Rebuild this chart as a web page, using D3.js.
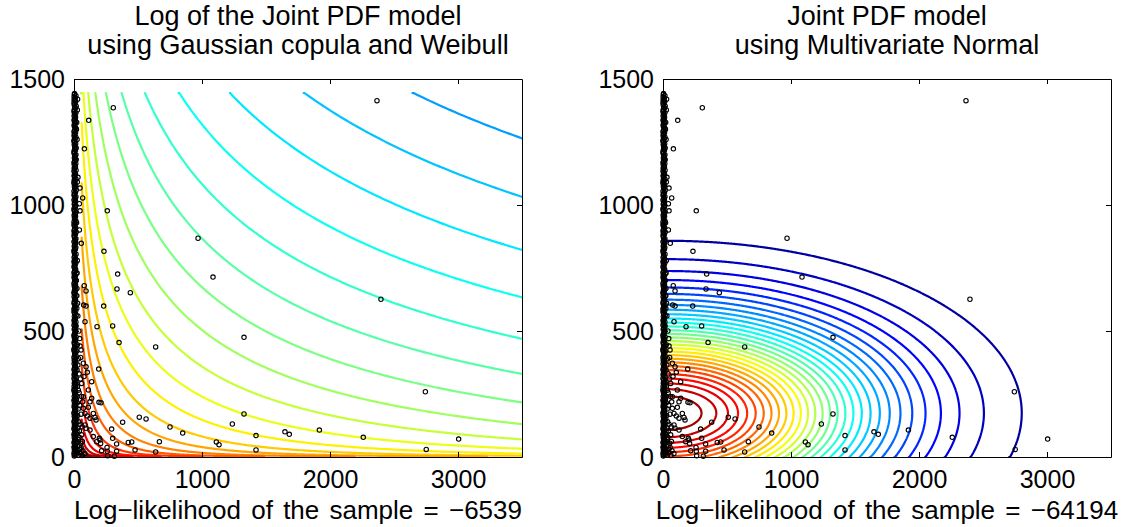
<!DOCTYPE html>
<html>
<head>
<meta charset="utf-8">
<script src="https://cdn.jsdelivr.net/npm/d3@7"></script>
<style>
  body { margin: 0; background: #fff; }
  svg text { font-family: "Liberation Sans", Arial, Helvetica, sans-serif; fill: #000; }
</style>
</head>
<body>
<svg id="chart" width="1127" height="527"></svg>
<script>
// ---------- axis ticks and text ----------
const xTicks = [0, 1000, 2000, 3000];
const yTicks = [0, 500, 1000, 1500];
const xDomain = [0, 3500];
const yDomain = [0, 1500];
const leftTitle = ["Log of the Joint PDF model", "using Gaussian copula and Weibull"];
const rightTitle = ["Joint PDF model", "using Multivariate Normal"];
const leftLabel = "Log\u2212likelihood of the sample = \u22126539";
const rightLabel = "Log\u2212likelihood of the sample = \u221264194";

// ---------- observed sample (x, y) ----------
// dense column of observations close to x = 0
const columnSamples = [
  [2,4],[6,9],[0,15],[9,21],[3,27],[12,31],[1,38],[5,44],[8,50],[0,57],[4,63],[11,68],[2,76],[7,83],[0,90],
  [5,97],[10,102],[1,110],[6,118],[3,125],[9,131],[0,139],[4,147],[7,154],[2,161],[12,168],[0,176],[5,184],
  [8,191],[1,199],[3,208],[10,215],[0,223],[6,231],[2,240],[9,247],[4,256],[0,264],[7,271],[1,280],[11,287],
  [3,295],[5,304],[0,312],[8,320],[2,329],[6,337],[0,346],[4,354],[10,361],[1,370],[7,378],[3,387],[0,396],
  [5,404],[9,411],[2,420],[0,429],[6,437],[4,446],[1,455],[8,463],[3,472],[0,481],[5,489],[11,497],[2,506],
  [7,514],[0,523],[4,532],[1,541],[9,549],[3,558],[6,566],[0,575],[2,584],[8,592],[5,601],[0,610],[3,619],
  [10,627],[1,636],[6,645],[0,653],[4,662],[7,671],[2,679],[0,688],[5,697],[9,705],[1,714],[3,723],[0,732],
  [6,740],[8,749],[2,758],[4,767],[0,775],[11,783],[1,792],[5,801],[3,810],[0,819],[7,827],[2,836],[6,845],
  [0,854],[9,862],[4,871],[1,880],[3,889],[0,898],[5,906],[8,915],[2,924],[0,933],[6,941],[4,950],[1,959],
  [10,967],[3,976],[0,985],[7,994],[2,1003],[5,1011],[0,1020],[8,1029],[1,1038],[4,1046],[0,1055],[6,1064],
  [3,1073],[9,1081],[0,1090],[2,1099],[5,1108],[1,1117],[7,1125],[0,1134],[4,1143],[11,1151],[2,1160],
  [0,1169],[6,1178],[3,1187],[8,1195],[1,1204],[0,1213],[5,1222],[9,1230],[2,1239],[4,1248],[0,1257],
  [7,1265],[1,1274],[3,1283],[0,1292],[6,1300],[10,1309],[2,1318],[5,1327],[0,1336],[8,1344],[1,1353],
  [4,1362],[0,1371],[3,1380],[7,1388],[2,1397],[0,1406],[5,1414],[9,1422],[1,1430],[3,1438],
  [4,8],[13,17],[7,25],[15,33],[2,41],[10,47],[17,54],[5,60],[12,66],[8,72],[14,79],[3,86],[16,94],[6,100],
  [11,106],[1,114],[13,121],[9,128],[15,135],[4,143],[12,150],[7,158],[16,165],[2,172],[10,180],[14,188],
  [5,195],[12,203],[8,211],[15,219],[3,227],[11,235],[17,244],[6,251],[13,260],[1,268],[9,276],[15,284],
  [4,291],[12,299],[7,308],[16,316],[2,324],[10,333],[14,341],[5,350],[12,358],[8,365],[15,374],[3,382],
  [11,391],[17,400],[6,408],[13,416],[1,424],[9,433],[15,441],[4,450],[12,459],[7,467],[16,476],[2,485],
  [10,493],[14,501],[5,510],[12,518],[8,527],[15,536],[3,545],[11,553],[17,562],[6,570],[13,579],[1,588],
  [9,596],[15,605],[4,614],[12,623],[7,631],[16,640],[2,649],[10,657],[14,666],[5,675],[12,683],[8,692],
  [15,701],[3,709],[11,718],[17,727],[6,736],[13,744],[1,753],[9,762],[15,771],[4,779],[12,787],[7,796],
  [16,805],[2,814],[10,823],[14,831],[5,840],[12,849],[8,858],[15,866],[3,875],[11,884],[17,893],[6,902],
  [13,910],[1,919],[9,928],[15,937],[4,945],[12,954],[7,963],[16,971],[2,980],[10,989],[14,998],[5,1007],
  [12,1015],[8,1024],[15,1033],[3,1042],[11,1050],[17,1059],[6,1068],[13,1077],[1,1085],[9,1094],
  [15,1103],[4,1112],[12,1121],[7,1129],[16,1138],[2,1147],[10,1155],[14,1164],[5,1173],[12,1182],
  [8,1191],[15,1199],[3,1208],[11,1217],[17,1226],[6,1234],[13,1243],[1,1252],[9,1261],[15,1269],
  [4,1278],[12,1287],[7,1296],[16,1304],[2,1313],[10,1322],[14,1331],[5,1340],[12,1348],[8,1357],
  [15,1366],[3,1375],[11,1384],[17,1392],[6,1401],[13,1410],[1,1418],[9,1426],[15,1434],[4,1442]
];
// observations just right of the column
const nearAxisSamples = [
  [20,12],[35,8],[48,18],[62,6],[15,35],[28,42],[44,30],[70,25],[85,14],[25,60],[52,55],[38,78],[18,92],
  [60,88],[30,115],[47,130],[22,150],[55,170],[33,190],[19,230],[40,255],[27,280],[50,310],[24,345],[36,390],
  [20,420],[45,470],[16,520],[30,560],[22,640],[18,700],[26,780],[14,850],[20,930],[31,1110],[17,1180],
  [24,1260],[19,1300],[28,1420],[26,20],[40,45],[56,38],[32,70],[66,62],[24,100],[42,104],[36,140],
  [64,120],[28,165],[44,205],[26,215],[58,240],[34,265],[22,300],[40,330],[30,365],[52,395],[26,445],
  [38,500],[22,590],[28,610],[24,730]
];
// scattered observations
const spreadSamples = [
  [307,1386],[115,1336],[26,1377],[21,1327],[81,1223],[47,1067],[26,1091],[68,1028],[42,1005],[47,977],
  [260,977],[42,901],[57,848],[234,816],[969,868],[2367,1414],[341,726],[1086,714],[80,680],[94,659],
  [23,669],[336,667],[440,652],[2398,626],[76,603],[94,599],[232,599],[86,537],[302,520],[180,517],
  [1328,475],[352,454],[638,437],[47,440],[55,425],[73,372],[94,358],[193,349],[104,336],[138,299],
  [60,292],[78,319],[112,266],[2745,259],[73,239],[138,233],[68,219],[125,219],[195,217],[211,215],
  [73,193],[112,197],[86,173],[151,173],[104,163],[125,154],[164,157],[172,147],[380,138],[510,158],
  [563,151],[1237,131],[1328,171],[750,119],[294,111],[86,127],[94,114],[125,107],[849,95],[1422,85],
  [1648,100],[1682,90],[1917,107],[2260,78],[3005,71],[151,81],[302,74],[198,74],[203,67],[667,61],
  [1112,60],[1133,49],[424,58],[451,60],[333,52],[177,61],[208,54],[258,38],[2752,30],[1422,28],
  [477,28],[638,20],[216,25],[260,23],[333,23],[315,3],[263,5]
];
const samples = columnSamples.concat(nearAxisSamples, spreadSamples);

// ---------- fitted models ----------
// Weibull marginals (shape, scale) for the copula model
const weibullX = { shape: 0.12, scale: 300 };
const weibullY = { shape: 0.67, scale: 300 };
const copulaLevelStart = -20.53;   // lowest log-density contour
const copulaLevelStep = 0.40;
const copulaLevelCount = 23;
// bivariate normal: mean, standard deviations, correlation
const mvnMean = [30, 174];
const mvnSd = [1058, 261];
const mvnRho = 0;
const mvnLevelCount = 30;

// ---------- helpers ----------
function jet(t) {
  const c = v => Math.max(0, Math.min(1, v));
  return d3.rgb(255 * c(1.5 - Math.abs(4 * t - 3)),
                255 * c(1.5 - Math.abs(4 * t - 2)),
                255 * c(1.5 - Math.abs(4 * t - 1))).formatHex();
}
function logWeibull(v, p) {
  const z = v / p.scale;
  return Math.log(p.shape / p.scale) + (p.shape - 1) * Math.log(z) - Math.pow(z, p.shape);
}
function mvnDensity(x, y) {
  const zx = (x - mvnMean[0]) / mvnSd[0], zy = (y - mvnMean[1]) / mvnSd[1];
  const q = (zx * zx - 2 * mvnRho * zx * zy + zy * zy) / (1 - mvnRho * mvnRho);
  return Math.exp(-q / 2);   // relative to the peak density
}
function gridToData(g, arr) {
  let t = Math.max(0, Math.min(arr.length - 1, g - 0.5));
  const i = Math.min(arr.length - 2, Math.floor(t));
  return arr[i] + (t - i) * (arr[i + 1] - arr[i]);
}

const svg = d3.select("#chart");
const FONT = '"Liberation Sans", Arial, sans-serif';

function drawPanel(opts) {
  const { left, right, top, bottom, id } = opts;
  const x = d3.scaleLinear().domain(xDomain).range([left, right]);
  const y = d3.scaleLinear().domain(yDomain).range([bottom, top]);
  const g = svg.append("g");

  g.append("clipPath").attr("id", id).append("rect")
    .attr("x", left).attr("y", top).attr("width", right - left).attr("height", bottom - top);

  // contour lines
  const xs = opts.xs, ys = opts.ys, nx = xs.length, ny = ys.length;
  const values = new Float64Array(nx * ny);
  for (let j = 0; j < ny; j++)
    for (let i = 0; i < nx; i++) values[j * nx + i] = opts.field(xs[i], ys[j]);
  const sets = d3.contours().size([nx, ny]).thresholds(opts.levels)(values);
  const onEdge = (p, q) =>
    (p[0] === 0 && q[0] === 0) || (p[0] === nx && q[0] === nx) ||
    (p[1] === 0 && q[1] === 0) || (p[1] === ny && q[1] === ny);
  const px = p => x(gridToData(p[0], xs)).toFixed(2) + "," + y(gridToData(p[1], ys)).toFixed(2);
  const cg = g.append("g").attr("clip-path", `url(#${id})`);
  sets.forEach(mp => {
    let d = "";
    mp.coordinates.forEach(poly => poly.forEach(ring => {
      let pen = false;
      for (let k = 1; k < ring.length; k++) {
        const p = ring[k - 1], q = ring[k];
        if (onEdge(p, q)) { pen = false; continue; }
        if (!pen) { d += "M" + px(p); pen = true; }
        d += "L" + px(q);
      }
    }));
    if (d) cg.append("path").attr("d", d).attr("fill", "none")
      .attr("stroke", opts.color(mp.value)).attr("stroke-width", 2.2)
      .attr("stroke-linejoin", "round").attr("stroke-linecap", "round");
  });

  // observations
  g.append("g").selectAll("circle").data(samples).join("circle")
    .attr("cx", d => x(d[0])).attr("cy", d => y(d[1])).attr("r", 2.2)
    .attr("fill", "none").attr("stroke", "#000").attr("stroke-width", 1.1);

  // axes box with inward ticks
  const styleAxis = sel => {
    sel.selectAll("path.domain").attr("stroke", "#000").attr("stroke-width", 1);
    sel.selectAll(".tick line").attr("stroke", "#000").attr("stroke-width", 1);
    sel.selectAll("text").attr("font-size", 25).attr("fill", "#000").attr("font-family", FONT);
  };
  const fmt = d3.format("d");
  g.append("g").attr("transform", `translate(0,${bottom})`)
    .call(d3.axisBottom(x).tickValues(xTicks).tickFormat(fmt).tickSizeInner(-5).tickSizeOuter(0).tickPadding(13))
    .call(styleAxis);
  g.append("g").attr("transform", `translate(0,${top})`)
    .call(d3.axisTop(x).tickValues(xTicks).tickSizeInner(-5).tickSizeOuter(0).tickFormat(""))
    .call(styleAxis);
  g.append("g").attr("transform", `translate(${left},0)`)
    .call(d3.axisLeft(y).tickValues(yTicks).tickFormat(fmt).tickSizeInner(-5).tickSizeOuter(0).tickPadding(9))
    .call(styleAxis);
  g.append("g").attr("transform", `translate(${right},0)`)
    .call(d3.axisRight(y).tickValues(yTicks).tickSizeInner(-5).tickSizeOuter(0).tickFormat(""))
    .call(styleAxis);

  // title and x label
  const cx = (left + right) / 2;
  opts.title.forEach((t, i) => g.append("text").attr("x", cx).attr("y", 25 + i * 29)
    .attr("text-anchor", "middle").attr("font-size", 27).attr("font-family", FONT).text(t));
  g.append("text").attr("x", cx).attr("y", 519).attr("text-anchor", "middle")
    .attr("font-size", 26).attr("word-spacing", 3).attr("font-family", FONT).text(opts.label);
}

// Left: log density, Gaussian copula with Weibull marginals (log-spaced grid)
const lxs = d3.range(320).map(i => 60 * Math.pow(3700 / 60, i / 319));
const lys = d3.range(280).map(j => 2 * Math.pow(1444 / 2, j / 279));
const copulaLevels = d3.range(copulaLevelCount).map(i => copulaLevelStart + i * copulaLevelStep);
drawPanel({
  id: "clipLeft", left: 74, right: 522, top: 79, bottom: 457,
  xs: lxs, ys: lys,
  field: (a, b) => logWeibull(a, weibullX) + logWeibull(b, weibullY),
  levels: copulaLevels,
  color: v => jet(0.28 + 0.036 * (v - copulaLevelStart) / copulaLevelStep),
  title: leftTitle, label: leftLabel
});

// Right: bivariate normal density
const rxs = d3.range(0, 3605, 8);
const rys = d3.range(0, 1504, 4);
const mvnLevels = d3.range(1, mvnLevelCount + 1).map(j => j / (mvnLevelCount + 1));
drawPanel({
  id: "clipRight", left: 663, right: 1111, top: 79, bottom: 457,
  xs: rxs, ys: rys,
  field: mvnDensity,
  levels: mvnLevels,
  color: v => jet(v),
  title: rightTitle, label: rightLabel
});
</script>
</body>
</html>
